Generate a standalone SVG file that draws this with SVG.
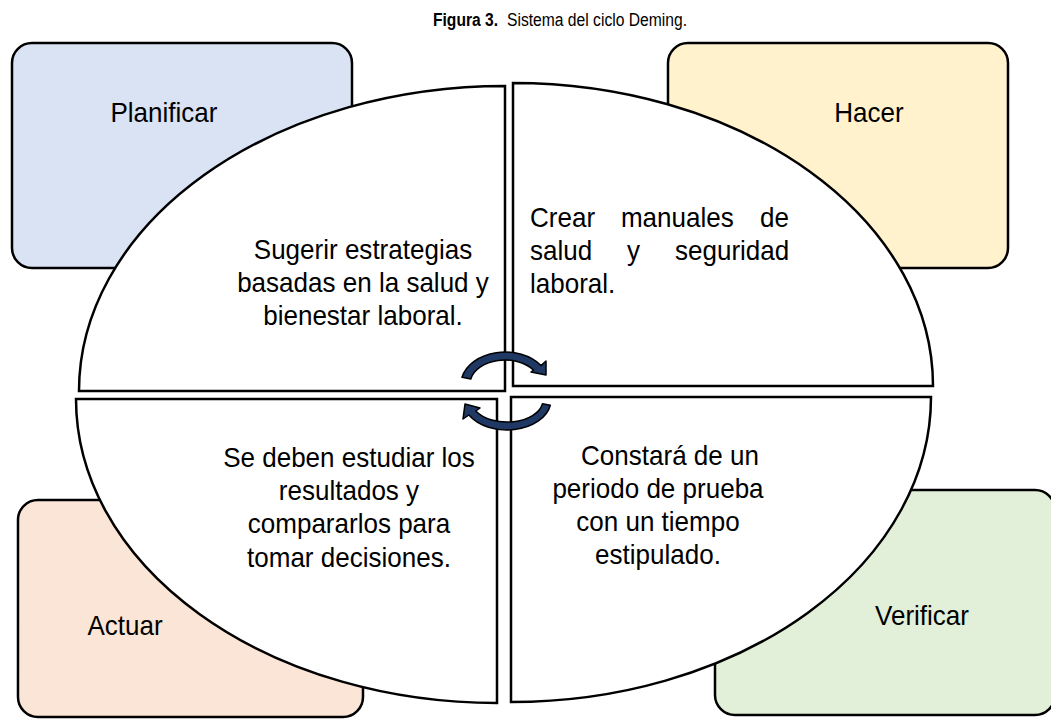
<svg xmlns="http://www.w3.org/2000/svg" width="1051" height="719" viewBox="0 0 1051 719">
<style>
.box{stroke:#000;stroke-width:2.5}
.q{fill:#fff;stroke:#000;stroke-width:2.5}
.lbl{font-family:"Liberation Sans",Arial,sans-serif;font-size:28px;fill:#000}
.ttl{font-family:"Liberation Sans",Arial,sans-serif;font-size:18px;fill:#000}
.c{text-anchor:middle}
.arr{fill:#1F3864;stroke:#000;stroke-width:1.5;stroke-linejoin:round}
</style>
<rect width="1051" height="719" fill="#fff"/>
<g id="title">
<text class="ttl" x="433" y="26" font-weight="bold" textLength="65" lengthAdjust="spacingAndGlyphs">Figura 3.</text>
<text class="ttl" x="507" y="26" textLength="180" lengthAdjust="spacingAndGlyphs">Sistema del ciclo Deming.</text>
</g>
<g id="planificar"><rect class="box" x="12" y="43" width="340" height="225" rx="20" fill="#DAE3F3"/><text class="lbl c" x="164" y="122" transform="matrix(0.93 0 0 1 11.48 0)">Planificar</text></g>
<g id="hacer"><rect class="box" x="668" y="43" width="340" height="225" rx="20" fill="#FFF2CC"/><text class="lbl c" x="869" y="122" transform="matrix(0.93 0 0 1 60.83 0)">Hacer</text></g>
<g id="actuar"><rect class="box" x="18" y="500" width="345" height="217" rx="20" fill="#FBE5D6"/><text class="lbl c" x="125" y="635" transform="matrix(0.93 0 0 1 8.75 0)">Actuar</text></g>
<g id="verificar"><rect class="box" x="715" y="490" width="340" height="225" rx="20" fill="#E2F0D9"/><text class="lbl c" x="922" y="625" transform="matrix(0.93 0 0 1 64.54 0)">Verificar</text></g>
<g id="q-planificar"><path class="q" d="M505 391 L79 391 A426 305 0 0 1 505 86 Z"/>
<text class="lbl c" transform="matrix(0.93 0 0 1 25.41 0)"><tspan x="363" y="259">Sugerir estrategias</tspan><tspan x="363" y="292">basadas en la salud y</tspan><tspan x="363" y="325">bienestar laboral.</tspan></text></g>
<g id="q-hacer"><path class="q" d="M513 386 L513 83 A420 303 0 0 1 933 386 Z"/>
<text class="lbl" transform="matrix(0.93 0 0 1 37.1 0)"><tspan x="530" y="227">Crear</tspan><tspan x="627.8" y="227">manuales</tspan><tspan x="777.3" y="227">de</tspan><tspan x="530" y="260">salud</tspan><tspan x="634.3" y="260">y</tspan><tspan x="685.9" y="260">seguridad</tspan><tspan x="530" y="293">laboral.</tspan></text></g>
<g id="q-verificar"><path class="q" d="M511 397 L931 397 A420 305 0 0 1 511 702 Z"/>
<text class="lbl c" transform="matrix(0.93 0 0 1 46.06 0)"><tspan x="670.9" y="465">Constará de un</tspan><tspan x="658" y="498">periodo de prueba</tspan><tspan x="658" y="531">con un tiempo</tspan><tspan x="658" y="564">estipulado.</tspan></text></g>
<g id="q-actuar"><path class="q" d="M497 399 L497 703 A421 304 0 0 1 76 399 Z"/>
<text class="lbl c" transform="matrix(0.93 0 0 1 24.43 0)"><tspan x="349" y="467">Se deben estudiar los</tspan><tspan x="349" y="500">resultados y</tspan><tspan x="349" y="533">compararlos para</tspan><tspan x="349" y="567">tomar decisiones.</tspan></text></g>
<g id="connectors">
<path class="arr" d="M462 377.3 A44 32 0 0 1 541 365.6 L546 361 L546 375 L531 372 L533.7 370.2 A35 24 0 0 0 470.8 379 Z"/>
<path class="arr" d="M550.3 405.2 A44 30 0 0 1 468.9 415 L463 419 L465 404 L480 408 L475.8 411 A36 22 0 0 0 542.5 403.8 Z"/>
</g>
</svg>
